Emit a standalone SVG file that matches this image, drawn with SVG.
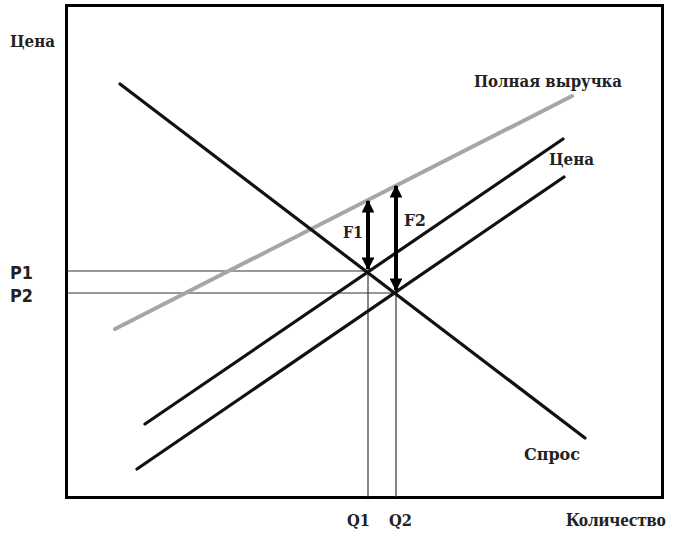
<svg xmlns="http://www.w3.org/2000/svg" width="678" height="536" viewBox="0 0 678 536">
<style>
.lbl{font-family:"DejaVu Serif","Liberation Serif",serif;font-weight:bold;font-size:17px;fill:#222}
.lbl2{font-family:"Liberation Serif",serif;font-weight:bold;font-size:18px;fill:#222}
.sans{font-family:"DejaVu Sans","Liberation Sans",sans-serif;font-weight:bold;font-size:17px;fill:#222}
.curve{stroke:#111;stroke-width:3.2;stroke-linecap:round;fill:none}
.gray{stroke:#a6a6a6;stroke-width:4;stroke-linecap:round;fill:none}
.guide{stroke:#333;stroke-width:1.2;fill:none}
.force{stroke:#000;stroke-width:4;fill:none;marker-start:url(#ah);marker-end:url(#ah)}
</style>
<defs>
<marker id="ah" viewBox="0 0 10 10" refX="9" refY="5" markerWidth="3.2" markerHeight="3.2" orient="auto-start-reverse">
<path d="M0,0 L10,5 L0,10 z" fill="#000"/>
</marker>
</defs>
<rect width="678" height="536" fill="#fff"/>
<g id="frame"><rect x="66.5" y="5.5" width="596" height="492" fill="none" stroke="#000" stroke-width="3"/></g>
<g id="guides">
<line class="guide" x1="67" y1="271" x2="368" y2="271"/>
<line class="guide" x1="67" y1="293" x2="396" y2="293"/>
<line class="guide" x1="368" y1="271" x2="368" y2="497"/>
<line class="guide" x1="396" y1="293" x2="396" y2="497"/>
</g>
<g id="revenue"><line class="gray" x1="115" y1="329" x2="572" y2="96"/></g>
<g id="demand"><line class="curve" x1="120" y1="84" x2="585" y2="438"/></g>
<g id="supply1"><line class="curve" x1="145" y1="424" x2="563" y2="139"/></g>
<g id="supply2"><line class="curve" x1="137" y1="469" x2="564" y2="177"/></g>
<g id="connectors">
<line class="force" x1="368" y1="201" x2="368" y2="269"/>
<line class="force" x1="396" y1="186" x2="396" y2="290"/>
</g>
<g id="labels">
<text class="lbl" x="10" y="47" textLength="45" lengthAdjust="spacingAndGlyphs">Цена</text>
<text class="lbl" x="474" y="87" textLength="148" lengthAdjust="spacingAndGlyphs">Полная выручка</text>
<text class="lbl" x="549" y="165" textLength="45" lengthAdjust="spacingAndGlyphs">Цена</text>
<text class="lbl" x="343" y="238" textLength="20" lengthAdjust="spacingAndGlyphs">F1</text>
<text class="lbl" x="404" y="226" textLength="22" lengthAdjust="spacingAndGlyphs">F2</text>
<text class="sans" x="10" y="279" textLength="23" lengthAdjust="spacingAndGlyphs">P1</text>
<text class="sans" x="10" y="302" textLength="23" lengthAdjust="spacingAndGlyphs">P2</text>
<text class="lbl" x="524" y="460" textLength="56" lengthAdjust="spacingAndGlyphs">Спрос</text>
<text class="lbl" x="347" y="526" textLength="23" lengthAdjust="spacingAndGlyphs">Q1</text>
<text class="lbl" x="389" y="526" textLength="23" lengthAdjust="spacingAndGlyphs">Q2</text>
<text class="lbl2" x="566" y="526" textLength="100" lengthAdjust="spacingAndGlyphs">Количество</text>
</g>
</svg>
